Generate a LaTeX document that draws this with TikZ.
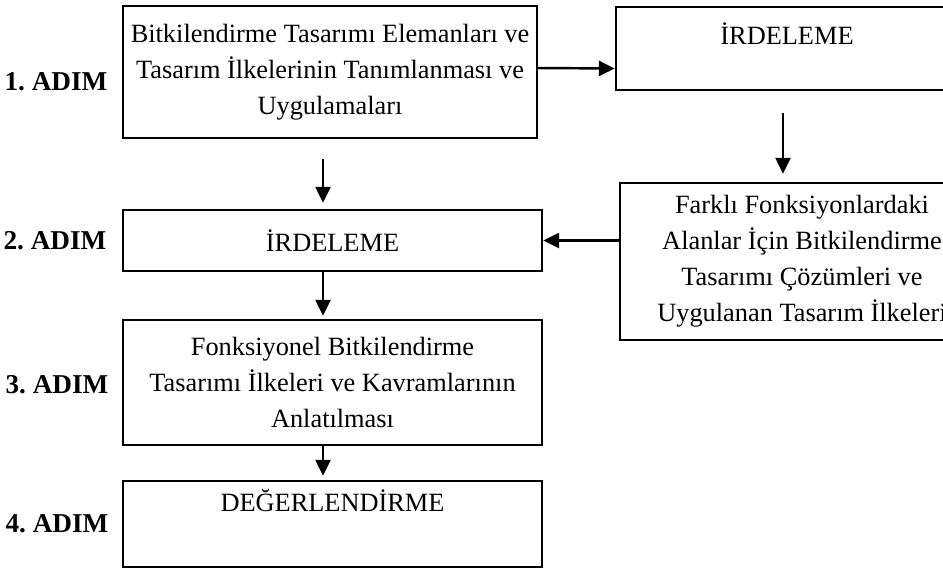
\documentclass[tikz,border=0pt]{standalone}
\usepackage{fontspec}
\setmainfont{Liberation Serif}
\usetikzlibrary{arrows.meta,positioning,calc}

\tikzset{
	kutu/.style={draw, line width=1.4pt, align=center, inner sep=0pt,
		font=\fontsize{15}{20.5}\selectfont},
	adim/.style={inner sep=0pt, font=\fontsize{15.5}{18}\selectfont\bfseries},
	ok/.style={line width=1.4pt, -{Triangle[length=0.32cm,width=0.3cm]}}
}

\begin{document}
\begin{tikzpicture}[x=0.02cm,y=-0.02cm]
	\useasboundingbox (0,0) rectangle (943,569);
	\clip (0,0) rectangle (943,569);
	
	% step 1: elements and principles
	\node[kutu, minimum width=8.28cm, minimum height=2.64cm] (bitki) at (330,72)
	{Bitkilendirme Tasarımı Elemanları ve\\Tasarım İlkelerinin Tanımlanması ve\\Uygulamaları};
	
	% first review, top right
	\node[kutu, minimum width=6.84cm, text height=0.74cm, text depth=0.92cm] (irdele1) at (787,48.5)
	{İRDELEME};
	
	% solutions in different functional areas
	\node[kutu, minimum width=7.28cm, minimum height=3.14cm] (farkli) at (802,261.5)
	{Farklı Fonksiyonlardaki\\Alanlar İçin Bitkilendirme\\Tasarımı Çözümleri ve\\Uygulanan Tasarım İlkeleri};
	
	% step 2: review
	\node[kutu, minimum width=8.38cm, minimum height=1.22cm] (irdele2) at (332.5,240.5)
	{İRDELEME};
	
	% step 3: functional principles
	\node[kutu, minimum width=8.38cm, minimum height=2.5cm] (fonk) at (332.5,382.5)
	{Fonksiyonel Bitkilendirme\\Tasarımı İlkeleri ve Kavramlarının\\Anlatılması};
	
	% step 4: evaluation
	\node[kutu, minimum width=8.38cm, text height=0.6cm, text depth=1.12cm] (deger) at (332.5,524)
	{DEĞERLENDİRME};
	
	% step labels
	\node[adim, left=0.28cm of bitki, yshift=-0.2cm] (adim1) {1.\ ADIM};
	\node[adim, left=0.3cm of irdele2] (adim2) {2.\ ADIM};
	\node[adim, left=0.26cm of fonk, yshift=-0.05cm] (adim3) {3.\ ADIM};
	\node[adim, left=0.26cm of deger] (adim4) {4.\ ADIM};
	
	% arrows
	\draw[ok] ([yshift=0.08cm]bitki.east) -- ([yshift=-0.4cm]irdele1.west);
	\draw[ok, shorten <=0.44cm, shorten >=0.16cm] ([xshift=-0.08cm]irdele1.south)
	-- ([xshift=-0.08cm]irdele1.south |- farkli.north);
	\draw[ok] (farkli.west |- irdele2.east) -- (irdele2.east);
	\draw[ok, shorten <=0.4cm, shorten >=0.12cm] ([xshift=-0.14cm]bitki.south)
	-- ([xshift=-0.14cm]bitki.south |- irdele2.north);
	\draw[ok, shorten >=0.06cm] ([xshift=-0.19cm]irdele2.south)
	-- ([xshift=-0.19cm]irdele2.south |- fonk.north);
	\draw[ok, shorten >=0.08cm] ([xshift=-0.19cm]fonk.south)
	-- ([xshift=-0.19cm]fonk.south |- deger.north);
\end{tikzpicture}
\end{document}
